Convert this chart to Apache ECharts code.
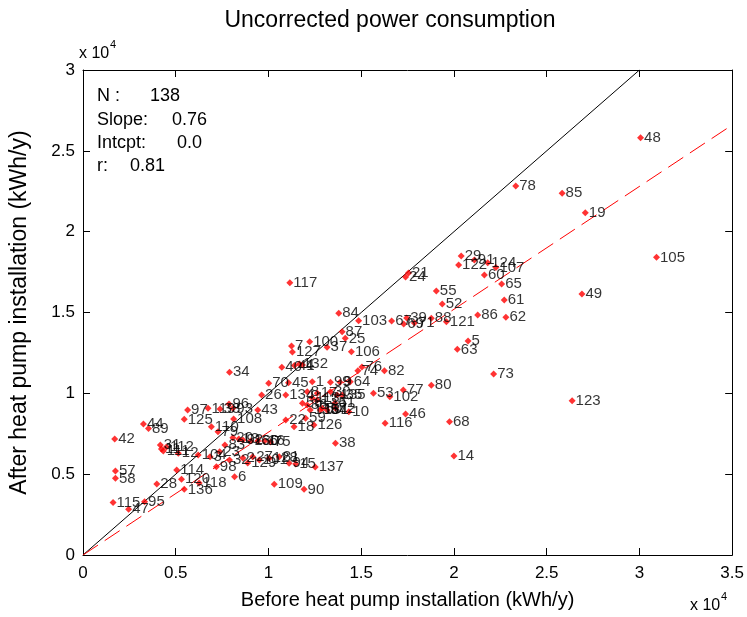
<!DOCTYPE html>
<html><head><meta charset="utf-8">
<script src="https://cdn.jsdelivr.net/npm/echarts@6/dist/echarts.min.js"></script>
<style>html,body{margin:0;padding:0;background:#fff}#c{width:747px;height:617px}</style>
</head><body><div id="c"></div>
<script>
// Household ids (labels)
const ids = [1,2,3,4,5,6,7,8,9,10,11,12,13,14,15,16,17,18,19,20,21,22,23,24,25,26,27,28,29,30,31,32,33,34,35,36,37,38,39,40,41,42,43,44,45,46,47,48,49,50,51,52,53,54,55,56,57,58,59,60,61,62,63,64,65,66,67,68,69,70,71,72,73,74,75,76,77,78,79,80,81,82,83,84,85,86,87,88,89,90,91,92,93,94,95,96,97,98,99,100,101,102,103,104,105,106,107,108,109,110,111,112,113,114,115,116,117,118,119,120,121,122,123,124,125,126,127,128,129,130,131,132,133,134,135,136,137,138];
// Before heat pump installation (thousand kWh/y)
const beforeK = [12.36,8.62,6.85,11.83,20.76,8.17,11.24,12.09,13.86,14.33,4.23,5.14,8.40,20.00,11.47,9.79,12.63,11.38,27.08,8.08,17.55,10.93,7.37,17.39,14.14,9.63,9.15,3.98,20.39,13.34,4.17,7.90,7.39,7.90,13.97,12.09,13.16,13.61,17.45,10.72,11.40,1.71,9.42,3.26,11.08,17.39,2.46,30.06,26.90,12.90,13.58,19.37,15.66,13.16,19.05,11.83,1.75,1.75,12.00,21.64,22.71,22.80,20.18,14.41,22.57,9.42,16.64,19.76,17.29,10.01,17.87,13.61,22.14,14.82,10.11,15.04,17.27,23.33,7.28,18.78,10.58,16.25,7.65,13.79,25.83,21.28,13.97,18.78,3.53,11.92,21.10,8.62,8.08,11.11,3.32,7.87,5.64,7.19,13.34,12.22,9.51,16.54,14.86,6.21,30.92,14.47,22.26,8.12,10.31,6.92,4.33,4.50,12.36,5.05,1.62,16.29,11.15,6.26,6.74,5.31,19.59,20.25,26.37,21.82,5.46,12.45,11.29,10.04,8.88,9.04,12.79,11.67,12.63,10.93,13.70,5.46,12.52,12.25];
// After heat pump installation (thousand kWh/y)
const afterK = [10.72,6.00,6.08,11.75,13.24,4.84,12.93,10.10,10.68,8.86,6.56,6.29,7.18,6.12,5.63,7.05,10.00,7.94,21.17,7.26,17.44,8.35,6.39,17.20,13.40,9.90,6.08,4.39,18.49,10.10,6.80,5.88,9.03,11.30,9.90,9.28,12.85,6.91,14.66,11.61,11.72,7.18,8.97,8.10,10.66,8.72,2.83,25.81,16.14,9.07,9.38,15.53,10.00,8.97,16.33,9.38,5.20,4.74,8.46,17.32,15.77,14.70,12.72,10.72,16.76,7.05,14.47,8.25,14.29,10.62,14.35,9.07,11.20,11.40,6.99,11.63,10.21,22.82,7.63,10.50,6.08,11.40,6.80,14.95,22.37,14.84,13.81,14.64,7.83,4.06,18.25,7.11,9.07,5.67,3.30,9.34,8.97,5.46,10.68,13.19,5.88,9.79,14.49,6.19,18.41,12.57,17.79,8.41,4.37,7.94,6.43,6.68,9.71,5.26,3.24,8.15,16.84,4.45,9.07,4.68,14.43,17.94,9.54,18.08,8.39,8.04,12.56,5.98,5.69,7.05,8.97,11.81,9.59,9.90,9.90,4.06,5.44,8.97];

const xTickLabels = ['0','0.5','1','1.5','2','2.5','3','3.5'];
const yTickLabels = ['0','0.5','1','1.5','2','2.5','3'];
const statNames = ['N :','Slope:','Intcpt:','r:'];
const statValues = ['138','0.76','0.0','0.81'];
const fitSlope = 0.76;
const fitIntercept = 0.0;
const xMax = 35, yMax = 30, tickStep = 5;

const FONT = "'Liberation Sans',Arial,sans-serif";
const chart = echarts.init(document.getElementById('c'), null, {renderer:'canvas'});

const axisCommon = {
  axisLine:{show:true, onZero:false, lineStyle:{color:'#000', width:1}},
  axisTick:{show:true, inside:true, length:7, lineStyle:{color:'#000'}},
  splitLine:{show:false}
};

const statRows = [96, 120, 143, 166];
const statValueX = [150, 172, 177, 130];
const graphics = [
  {type:'text', x:390, y:9, style:{text:'Uncorrected power consumption', font:'23px '+FONT, fill:'#000', align:'center'}},
  {type:'text', x:79, y:46, style:{text:'x 10', font:'16px '+FONT, fill:'#000'}},
  {type:'text', x:110, y:39, style:{text:'4', font:'11px '+FONT, fill:'#000'}},
  {type:'text', x:690, y:598, style:{text:'x 10', font:'16px '+FONT, fill:'#000'}},
  {type:'text', x:721, y:591, style:{text:'4', font:'11px '+FONT, fill:'#000'}}
];
statNames.forEach((n,i)=>{
  graphics.push({type:'text', x:97, y:statRows[i], style:{text:n, font:'18px '+FONT, fill:'#000', verticalAlign:'middle'}});
  graphics.push({type:'text', x:statValueX[i], y:statRows[i], style:{text:statValues[i], font:'18px '+FONT, fill:'#000', verticalAlign:'middle'}});
});

chart.setOption({
  backgroundColor:'#fff',
  animation:false,
  grid:{left:79, right:14, top:70, bottom:62, containLabel:false},
  xAxis:[
    Object.assign({type:'value', min:0, max:xMax, interval:tickStep, position:'bottom',
      name:'Before heat pump installation (kWh/y)', nameLocation:'middle', nameGap:35,
      nameTextStyle:{fontFamily:FONT, fontSize:20, color:'#000'},
      axisLabel:{formatter:(v)=>xTickLabels[Math.round(v/tickStep)], fontFamily:FONT, fontSize:17, color:'#000', margin:10}}, axisCommon),
    Object.assign({type:'value', min:0, max:xMax, interval:tickStep, position:'top', axisLabel:{show:false}}, axisCommon)
  ],
  yAxis:[
    Object.assign({type:'value', min:0, max:yMax, interval:tickStep, position:'left',
      name:'After heat pump installation (kWh/y)', nameLocation:'middle', nameGap:52,
      nameTextStyle:{fontFamily:FONT, fontSize:23, color:'#000'},
      axisLabel:{formatter:(v)=>yTickLabels[Math.round(v/tickStep)], fontFamily:FONT, fontSize:17, color:'#000', margin:8}}, axisCommon),
    Object.assign({type:'value', min:0, max:yMax, interval:tickStep, position:'right', axisLabel:{show:false}}, axisCommon)
  ],
  graphic:graphics,
  series:[
    {type:'line', data:[[0,0],[yMax,yMax]], symbol:'none', lineStyle:{color:'#000', width:1}, z:2, silent:true},
    {type:'line', data:[[0,fitIntercept],[xMax, fitIntercept + fitSlope*xMax]], symbol:'none', lineStyle:{color:'#f00', width:1, type:[18,8]}, z:2, silent:true},
    {type:'scatter', data:ids.map((id,i)=>[beforeK[i], afterK[i], id]), symbol:'diamond', symbolSize:7,
      itemStyle:{color:'#f00'}, z:3,
      label:{show:true, position:'right', distance:0, formatter:(p)=>String(p.data[2]), color:'#000', textBorderWidth:0, fontFamily:FONT, fontSize:15},
      labelLayout:{hideOverlap:false}}
  ]
});
</script>
</body></html>
